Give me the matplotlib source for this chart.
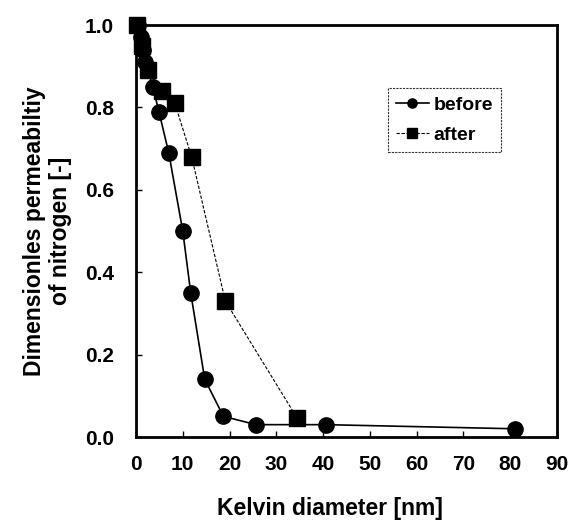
import matplotlib
matplotlib.use("Agg")
import matplotlib.pyplot as plt

before_x = [0.5, 1.0, 1.5, 2.0, 3.6, 4.9, 7.0, 10.0, 11.7, 14.7, 18.7, 25.7, 40.6, 81.0]
before_y = [1.0, 0.97, 0.94, 0.91, 0.85, 0.79, 0.69, 0.50, 0.35, 0.14, 0.05, 0.03, 0.03, 0.02]
after_x = [0.3, 1.2, 2.6, 5.5, 8.3, 11.9, 19.1, 34.5]
after_y = [1.0, 0.95, 0.89, 0.84, 0.81, 0.68, 0.33, 0.045]

plt.rcParams['font.family'] = ['Liberation Sans', 'DejaVu Sans']
plt.rcParams['font.weight'] = 'bold'

fig = plt.figure(figsize=(5.75, 5.23), dpi=100)
ax = fig.add_axes([0.2365, 0.1644, 0.7322, 0.7876])

ax.plot(before_x, before_y, '-', color='black', lw=1.2, marker='o', ms=11,
        label='before', clip_on=False, zorder=3)
ax.plot(after_x, after_y, '--', color='black', lw=0.8, dashes=(3, 1.5), marker='s', ms=11,
        label='after', clip_on=False, zorder=3)

ax.set_xlim(0, 90)
ax.set_ylim(0, 1.0)
ax.set_xticks(range(0, 91, 10))
ax.set_yticks([0.0, 0.2, 0.4, 0.6, 0.8, 1.0])
ax.set_yticklabels(['0.0', '0.2', '0.4', '0.6', '0.8', '1.0'])
ax.tick_params(axis='x', direction='in', length=4, width=1, labelsize=15, pad=13)
ax.tick_params(axis='y', direction='in', length=4, width=1, labelsize=15, pad=16)
for lab in ax.get_xticklabels() + ax.get_yticklabels():
    lab.set_fontweight('bold')
for s in ax.spines.values():
    s.set_linewidth(2)

ax.set_xlabel('Kelvin diameter [nm]', fontsize=16.5, fontweight='bold')
ax.xaxis.set_label_coords(0.46, -0.145)
ax.set_ylabel('Dimensionles permeabiltiy\nof nitrogen [-]', fontsize=16.5,
              fontweight='bold', labelpad=9)

leg = ax.legend(loc='upper left', bbox_to_anchor=(0.599, 0.847), borderaxespad=0,
                frameon=True, fancybox=False, handlelength=1.7, handletextpad=0.25,
                borderpad=0.4, labelspacing=0.65, markerscale=0.6,
                prop={'weight': 'bold', 'size': 14})
fr = leg.get_frame()
fr.set_edgecolor('black')
fr.set_linewidth(0.8)
fr.set_linestyle((0, (2, 1)))

fig.savefig('out.png', dpi=100)
